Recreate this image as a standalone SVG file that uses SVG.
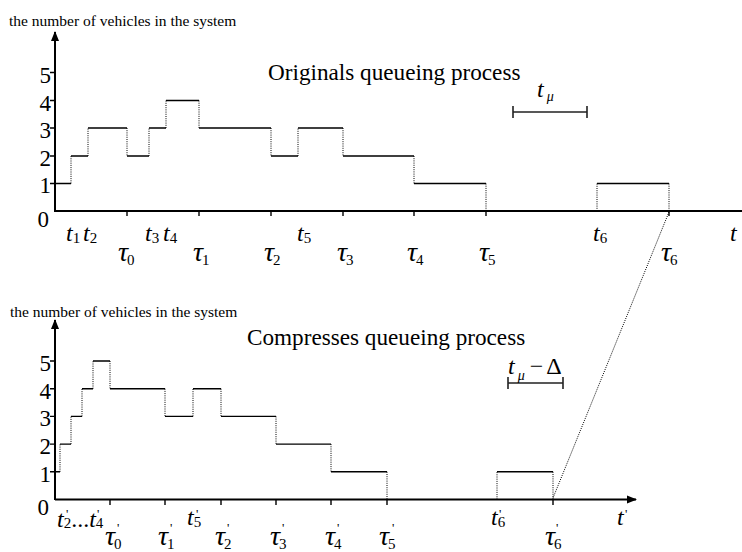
<svg xmlns="http://www.w3.org/2000/svg" width="742" height="552" viewBox="0 0 742 552">
<defs>
<style>
.ax{stroke:#000;stroke-width:2;fill:none}
.st{stroke:#000;stroke-width:1.4;fill:none}
.dt{stroke:#000;stroke-width:1;stroke-dasharray:1 1.2;fill:none}
.tk{stroke:#000;stroke-width:1.4;fill:none}
.bar{stroke:#222;stroke-width:1.6;fill:none}
text{font-family:"Liberation Serif","Times New Roman",serif;fill:#000}
.lab{font-size:15.5px}
.ttl{font-size:23.2px}
.num{font-size:23px;text-anchor:end}
.it{font-size:24px;font-style:italic}
.tau{font-size:28px;font-style:italic}
.sb{font-size:15px;font-style:normal}
.sbi{font-size:14px;font-style:italic}
.pr{font-size:13px;font-style:normal}
</style>
<marker id="ah" viewBox="0 0 10 10" refX="9" refY="5" markerWidth="5" markerHeight="5" orient="auto" markerUnits="strokeWidth"><path d="M0,1 L10,5 L0,9 z" fill="#000"/></marker>
</defs>
<rect width="742" height="552" fill="#fff"/>

<g id="top-chart">
<text class="lab" x="9" y="26">the number of vehicles in the system</text>
<line class="ax" x1="55" y1="212" x2="55" y2="32" marker-end="url(#ah)"/>
<line class="ax" x1="55" y1="211" x2="742" y2="211"/>
<text class="ttl" x="268" y="80">Originals queueing process</text>
<g id="top-yticks">
<path class="tk" d="M50 183.5H55M50 156H55M50 128H55M50 100.5H55M50 72.5H55"/>
<text class="num" x="51" y="193">1</text>
<text class="num" x="51" y="166">2</text>
<text class="num" x="51" y="138">3</text>
<text class="num" x="51" y="110.5">4</text>
<text class="num" x="51" y="83">5</text>
<text class="num" x="49" y="227">0</text>
</g>
<g id="top-steps">
<path class="st" d="M55 183.5H71M71 156H88M88 128H127M127 156H149M149 128H166M166 100.5H199M199 128H271M271 156H298M298 128H343M343 156H414M414 183.5H486M597 183.5H669"/>
<path class="dt" d="M71 183.5V156M88 156V128M127 128V156M149 156V128M166 128V100.5M199 100.5V128M271 128V156M298 156V128M343 128V156M414 156V183.5M486 183.5V211M597 211V183.5M669 183.5V211"/>
<path class="tk" d="M127 211V216M199 211V216M271 211V216M343 211V216M414 211V216M486 211V216M669 211V216"/>
</g>
<g id="top-xlabels">
<text class="it" x="66" y="241">t<tspan class="sb" dy="2">1</tspan></text>
<text class="it" x="83" y="241">t<tspan class="sb" dy="2">2</tspan></text>
<text class="it" x="145" y="241">t<tspan class="sb" dy="2">3</tspan></text>
<text class="it" x="163" y="241">t<tspan class="sb" dy="2">4</tspan></text>
<text class="it" x="297" y="241">t<tspan class="sb" dy="2">5</tspan></text>
<text class="it" x="593" y="241">t<tspan class="sb" dy="2">6</tspan></text>
<text class="it" x="730" y="241">t</text>
<text class="tau" x="118" y="261">τ<tspan class="sb" dy="4" dx="-1">0</tspan></text>
<text class="tau" x="193" y="261">τ<tspan class="sb" dy="4" dx="-1">1</tspan></text>
<text class="tau" x="264" y="261">τ<tspan class="sb" dy="4" dx="-1">2</tspan></text>
<text class="tau" x="337" y="261">τ<tspan class="sb" dy="4" dx="-1">3</tspan></text>
<text class="tau" x="407" y="261">τ<tspan class="sb" dy="4" dx="-1">4</tspan></text>
<text class="tau" x="479" y="261">τ<tspan class="sb" dy="4" dx="-1">5</tspan></text>
<text class="tau" x="661" y="261">τ<tspan class="sb" dy="4" dx="-1">6</tspan></text>
</g>
<g id="t-mu">
<path class="bar" d="M513 112H587M513 106V118M587 106V118"/>
<text class="it" x="537" y="97">t<tspan class="sbi" dy="4" dx="3">μ</tspan></text>
</g>
</g>

<g id="connectors">
<line class="dt" x1="669" y1="212" x2="553" y2="498"/>
</g>

<g id="bottom-chart">
<text class="lab" x="10" y="317">the number of vehicles in the system</text>
<line class="ax" x1="55" y1="500" x2="55" y2="320" marker-end="url(#ah)"/>
<line class="ax" x1="55" y1="499.5" x2="636" y2="499.5" marker-end="url(#ah)"/>
<text class="ttl" x="247" y="345">Compresses queueing process</text>
<g id="bottom-yticks">
<path class="tk" d="M50 471.8H55M50 444.1H55M50 416.4H55M50 388.7H55M50 361H55"/>
<text class="num" x="51" y="481.8">1</text>
<text class="num" x="51" y="454.1">2</text>
<text class="num" x="51" y="426.4">3</text>
<text class="num" x="51" y="398.7">4</text>
<text class="num" x="51" y="371">5</text>
<text class="num" x="49" y="515">0</text>
</g>
<g id="bottom-steps">
<path class="st" d="M55 471.8H60M60 444.1H71M71 416.4H82M82 388.7H93M93 361H110M110 388.7H165M165 416.4H193M193 388.7H221M221 416.4H276M276 444.1H331M331 471.8H387M497 471.8H553"/>
<path class="dt" d="M60 471.8V444.1M71 444.1V416.4M82 416.4V388.7M93 388.7V361M110 361V388.7M165 388.7V416.4M193 416.4V388.7M221 388.7V416.4M276 416.4V444.1M331 444.1V471.8M387 471.8V499.5M497 499.5V471.8M553 471.8V499.5"/>
<path class="tk" d="M110 499.5V505M165 499.5V505M221 499.5V505M276 499.5V505M331 499.5V505M387 499.5V505M553 499.5V505"/>
</g>
<g id="bottom-xlabels">
<text class="it" x="57" y="527">t<tspan class="sb" dy="1">2</tspan><tspan dy="-1" style="font-style:normal">...</tspan>t<tspan class="sb" dy="1">4</tspan></text>
<text class="pr" x="66" y="518">'</text>
<text class="pr" x="97" y="518">'</text>
<text class="it" x="187" y="525">t<tspan class="sb" dy="2">5</tspan></text>
<text class="pr" x="196" y="518">'</text>
<text class="it" x="491" y="525">t<tspan class="sb" dy="2">6</tspan></text>
<text class="pr" x="499" y="518">'</text>
<text class="it" x="617" y="525">t</text>
<text class="pr" x="625" y="518">'</text>
<text class="tau" x="105" y="545">τ<tspan class="sb" dy="4" dx="-1">0</tspan></text>
<text class="pr" x="117" y="532">'</text>
<text class="tau" x="158" y="545">τ<tspan class="sb" dy="4" dx="-1">1</tspan></text>
<text class="pr" x="170" y="532">'</text>
<text class="tau" x="215" y="545">τ<tspan class="sb" dy="4" dx="-1">2</tspan></text>
<text class="pr" x="227" y="532">'</text>
<text class="tau" x="270" y="545">τ<tspan class="sb" dy="4" dx="-1">3</tspan></text>
<text class="pr" x="282" y="532">'</text>
<text class="tau" x="325" y="545">τ<tspan class="sb" dy="4" dx="-1">4</tspan></text>
<text class="pr" x="337" y="532">'</text>
<text class="tau" x="379" y="545">τ<tspan class="sb" dy="4" dx="-1">5</tspan></text>
<text class="pr" x="392" y="532">'</text>
<text class="tau" x="545" y="545">τ<tspan class="sb" dy="4" dx="-1">6</tspan></text>
<text class="pr" x="556" y="532">'</text>
</g>
<g id="t-mu-delta">
<path class="bar" d="M508 383H563M508 377V389M563 377V389"/>
<text class="it" x="508" y="374">t<tspan class="sbi" dy="6" dx="3">μ</tspan><tspan dy="-6" dx="5" style="font-style:normal">−</tspan><tspan style="font-style:normal" dx="3">Δ</tspan></text>
</g>
</g>
</svg>
